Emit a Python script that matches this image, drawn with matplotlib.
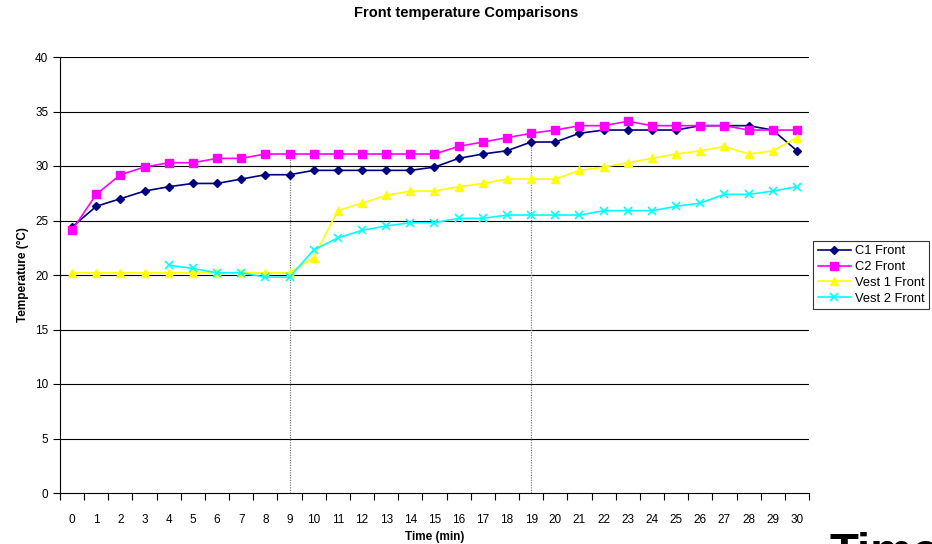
import numpy as np
import matplotlib.pyplot as plt
from matplotlib.ticker import FixedLocator

plt.rcParams['font.family'] = ['Liberation Sans', 'DejaVu Sans']

minutes = list(range(31))
c1_front = [24.4, 26.3, 27.0, 27.7, 28.1, 28.4, 28.4, 28.8, 29.2, 29.2,
            29.6, 29.6, 29.6, 29.6, 29.6, 29.9, 30.7, 31.1, 31.4, 32.2,
            32.2, 33.0, 33.3, 33.3, 33.3, 33.3, 33.7, 33.7, 33.7, 33.3, 31.4]
c2_front = [24.1, 27.4, 29.2, 29.9, 30.3, 30.3, 30.7, 30.7, 31.1, 31.1,
            31.1, 31.1, 31.1, 31.1, 31.1, 31.1, 31.8, 32.2, 32.6, 33.0,
            33.3, 33.7, 33.7, 34.1, 33.7, 33.7, 33.7, 33.7, 33.3, 33.3, 33.3]
vest1_front = [20.2, 20.2, 20.2, 20.2, 20.2, 20.2, 20.2, 20.2, 20.2, 20.2,
               21.6, 25.9, 26.6, 27.3, 27.7, 27.7, 28.1, 28.4, 28.8, 28.8,
               28.8, 29.6, 29.9, 30.3, 30.7, 31.1, 31.4, 31.8, 31.1, 31.4, 32.6]
vest2_front = [np.nan, np.nan, np.nan, np.nan, 20.9, 20.6, 20.2, 20.2, 19.8, 19.8,
               22.3, 23.4, 24.1, 24.5, 24.8, 24.8, 25.2, 25.2, 25.5, 25.5,
               25.5, 25.5, 25.9, 25.9, 25.9, 26.3, 26.6, 27.4, 27.4, 27.7, 28.1]
marked_minutes = [9, 19]

fig = plt.figure(figsize=(9.32, 5.44), dpi=100)
ax = fig.add_axes([60/932, 51/544, 749/932, 436/544])

ax.set_ylim(0, 40)
ax.set_xlim(-0.5, 30.5)
ax.set_yticks(range(0, 41, 5))
for v in range(5, 41, 5):
    ax.axhline(v, color='black', lw=0.8, zorder=0)

ax.vlines(marked_minutes, 0, [c2_front[m] for m in marked_minutes],
          colors='#808080', linestyles=(0, (1, 1)), lw=0.9, zorder=1)

ax.plot(minutes, c1_front, color='#000080', marker='D', ms=4.5, lw=1.2, label='C1 Front')
ax.plot(minutes, c2_front, color='#FF00FF', marker='s', ms=5.5, lw=1.2, label='C2 Front')
ax.plot(minutes, vest1_front, color='#FFFF00', marker='^', ms=6, lw=1.2, label='Vest 1 Front')
ax.plot(minutes, vest2_front, color='#00FFFF', marker='x', ms=5.5, mew=1.2, lw=1.2, label='Vest 2 Front')

ax.set_xticks(minutes)
ax.xaxis.set_minor_locator(FixedLocator(np.arange(-0.5, 31, 1)))
ax.tick_params(axis='x', which='major', length=0, pad=15, labelsize=8.5)
ax.tick_params(axis='x', which='minor', length=5, direction='out', width=0.8)
ax.tick_params(axis='y', length=5, width=0.8, labelsize=8.5)

for side in ['top', 'right']:
    ax.spines[side].set_visible(False)
ax.spines['left'].set_linewidth(0.8)
ax.spines['bottom'].set_linewidth(0.8)

ax.set_xlabel('Time (min)', fontsize=8.5, fontweight='bold', labelpad=4)
ax.set_ylabel('Temperature (°C)', fontsize=8.5, fontweight='bold', labelpad=4)
fig.text(466/932, 1 - 13/544, 'Front temperature Comparisons', ha='center', va='center',
         fontsize=10.5, fontweight='bold')

leg = fig.legend(loc='center left', bbox_to_anchor=(813/932, 1 - 275/544), fontsize=9.3,
                 frameon=True, fancybox=False, edgecolor='black', borderpad=0.35,
                 handlelength=2.6, handletextpad=0.3, labelspacing=0.3, borderaxespad=0)
leg.get_frame().set_linewidth(0.8)

fig.text(829/932, 1 - 532/544, 'Time', ha='left', va='top', fontsize=34, fontweight='bold')

fig.savefig('out.png', dpi=100)
